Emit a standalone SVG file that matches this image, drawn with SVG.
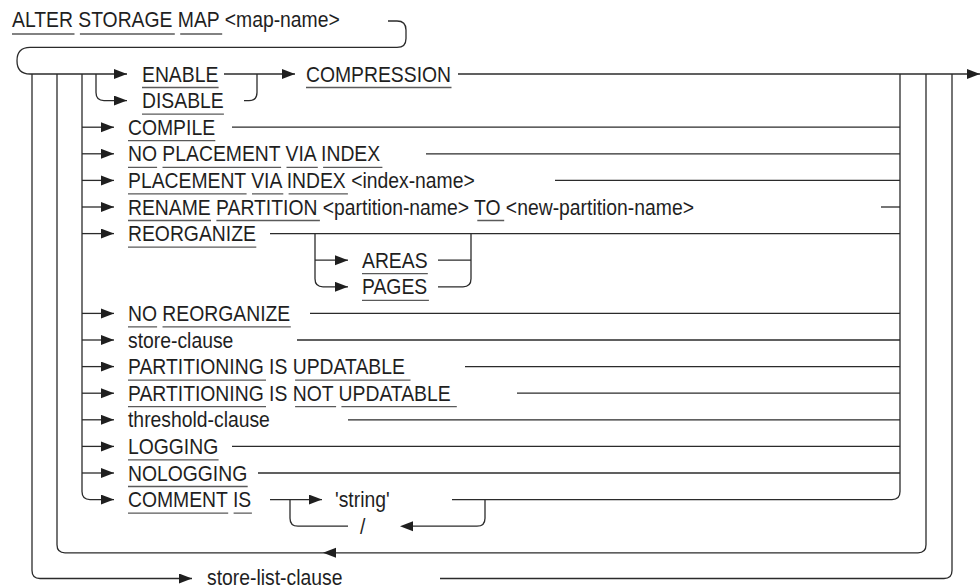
<svg xmlns="http://www.w3.org/2000/svg" width="980" height="588" viewBox="0 0 980 588">
<style>
.ln{fill:none;stroke:#2b2b2b;stroke-width:1.3}
.ul{fill:none;stroke:#5a5a5a;stroke-width:1.3}
.t{font-family:"Liberation Sans",Arial,sans-serif;font-size:21.5px;fill:#1f1f1f}
.ah{fill:#1f1f1f}
</style>
<defs>
<marker id="arr" markerUnits="userSpaceOnUse" markerWidth="14" markerHeight="11" refX="13" refY="5" orient="auto"><path d="M0,0 L13,5 L0,10 z" class="ah"/></marker>
</defs>
<rect width="980" height="588" fill="#ffffff"/>
<g id="connectors">
<path class="ln" d="M388 21 H397 Q406 21 406 30 V38.4 Q406 47.4 397 47.4 H30 Q17 47.4 17 60.7 Q17 74 30 74 H127" marker-end="url(#arr)"/>
<path class="ln" d="M96 74 V92.6 Q96 100.6 104 100.6 H127" marker-end="url(#arr)"/>
<path class="ln" d="M224 74 H295" marker-end="url(#arr)"/>
<path class="ln" d="M244 100.6 H249 Q257 100.6 257 92.6 V74"/>
<path class="ln" d="M458 74 H980" marker-end="url(#arr)"/>
<path class="ln" d="M82 74 V491.6 Q82 499.6 90 499.6 H114" marker-end="url(#arr)"/>
<path class="ln" d="M82 127.2 H114" marker-end="url(#arr)"/>
<path class="ln" d="M82 153.8 H114" marker-end="url(#arr)"/>
<path class="ln" d="M82 180.4 H114" marker-end="url(#arr)"/>
<path class="ln" d="M82 207 H114" marker-end="url(#arr)"/>
<path class="ln" d="M82 233.6 H114" marker-end="url(#arr)"/>
<path class="ln" d="M82 313.4 H114" marker-end="url(#arr)"/>
<path class="ln" d="M82 340 H114" marker-end="url(#arr)"/>
<path class="ln" d="M82 366.6 H114" marker-end="url(#arr)"/>
<path class="ln" d="M82 393.2 H114" marker-end="url(#arr)"/>
<path class="ln" d="M82 419.8 H114" marker-end="url(#arr)"/>
<path class="ln" d="M82 446.4 H114" marker-end="url(#arr)"/>
<path class="ln" d="M82 473 H114" marker-end="url(#arr)"/>
<path class="ln" d="M57 74 V544.8 Q57 552.8 65 552.8 H918 Q926 552.8 926 544.8 V74"/>
<polygon class="ah" points="323,552.8 336,547.8 336,557.8"/>
<path class="ln" d="M32 74 V570.5 Q32 578.5 40 578.5 H192" marker-end="url(#arr)"/>
<path class="ln" d="M440 578.5 H944 Q952 578.5 952 570.5 V74"/>
<path class="ln" d="M900 74 V491.6 Q900 499.6 892 499.6 H452"/>
<path class="ln" d="M232 127.2 H900"/>
<path class="ln" d="M426 153.8 H900"/>
<path class="ln" d="M555 180.4 H900"/>
<path class="ln" d="M881 207 H900"/>
<path class="ln" d="M270 233.6 H900"/>
<path class="ln" d="M315 233.6 V278.8 Q315 286.8 323 286.8 H348" marker-end="url(#arr)"/>
<path class="ln" d="M315 260.2 H348" marker-end="url(#arr)"/>
<path class="ln" d="M438 260.2 H471"/>
<path class="ln" d="M438 286.8 H463 Q471 286.8 471 278.8 V233.6"/>
<path class="ln" d="M310 313.4 H900"/>
<path class="ln" d="M297 340 H900"/>
<path class="ln" d="M465 366.6 H900"/>
<path class="ln" d="M517 393.2 H900"/>
<path class="ln" d="M348 419.8 H900"/>
<path class="ln" d="M232 446.4 H900"/>
<path class="ln" d="M258 473 H900"/>
<path class="ln" d="M270 499.6 H322" marker-end="url(#arr)"/>
<path class="ln" d="M290 499.6 V518.2 Q290 526.2 298 526.2 H348"/>
<path class="ln" d="M405 526.2 H477 Q485 526.2 485 518.2 V499.6"/>
<polygon class="ah" points="400,526.2 413,521.2 413,531.2"/>
</g>
<g id="n-alter">
<text class="t" transform="translate(12 27) scale(0.9 1)">ALTER STORAGE MAP &lt;map-name&gt;</text>
<path class="ul" d="M12 34 H74.5 M79.9 34 H174.8 M180.2 34 H222.2"/>
</g>
<g id="n-enable">
<text class="t" transform="translate(142 81.5) scale(0.9 1)">ENABLE</text>
<path class="ul" d="M142 87.5 H218.6"/>
</g>
<g id="n-disable">
<text class="t" transform="translate(142 108.1) scale(0.9 1)">DISABLE</text>
<path class="ul" d="M142 114.1 H223.9"/>
</g>
<g id="n-compression">
<text class="t" transform="translate(306 81.5) scale(0.9 1)">COMPRESSION</text>
<path class="ul" d="M306 87.5 H451.5"/>
</g>
<g id="n-compile">
<text class="t" transform="translate(128 134.7) scale(0.9 1)">COMPILE</text>
<path class="ul" d="M128 140.7 H215.3"/>
</g>
<g id="n-noplacement">
<text class="t" transform="translate(128 161.3) scale(0.9 1)">NO PLACEMENT VIA INDEX</text>
<path class="ul" d="M128 167.3 H157.1 M162.5 167.3 H281.1 M286.5 167.3 H317.8 M323.1 167.3 H382.4"/>
</g>
<g id="n-placement">
<text class="t" transform="translate(128 187.9) scale(0.9 1)">PLACEMENT VIA INDEX &lt;index-name&gt;</text>
<path class="ul" d="M128 193.9 H246.6 M252 193.9 H283.3 M288.6 193.9 H347.9"/>
</g>
<g id="n-rename">
<text class="t" transform="translate(128 214.5) scale(0.9 1)">RENAME PARTITION &lt;partition-name&gt; TO &lt;new-partition-name&gt;</text>
<path class="ul" d="M128 220.5 H211 M216.4 220.5 H319.9 M477.3 220.5 H504.2"/>
</g>
<g id="n-reorganize">
<text class="t" transform="translate(128 241.1) scale(0.9 1)">REORGANIZE</text>
<path class="ul" d="M128 247.1 H256.3"/>
</g>
<g id="n-areas">
<text class="t" transform="translate(362 267.7) scale(0.9 1)">AREAS</text>
<path class="ul" d="M362 273.7 H427.8"/>
</g>
<g id="n-pages">
<text class="t" transform="translate(362 294.3) scale(0.9 1)">PAGES</text>
<path class="ul" d="M362 300.3 H428.9"/>
</g>
<g id="n-noreorganize">
<text class="t" transform="translate(128 320.9) scale(0.9 1)">NO REORGANIZE</text>
<path class="ul" d="M128 326.9 H157.1 M162.5 326.9 H290.8"/>
</g>
<g id="n-store-clause">
<text class="t" transform="translate(128 347.5) scale(0.9 1)">store-clause</text>
</g>
<g id="n-part-updatable">
<text class="t" transform="translate(128 374.1) scale(0.9 1)">PARTITIONING IS UPDATABLE</text>
<path class="ul" d="M128 380.1 H266 M295.1 380.1 H410.5"/>
</g>
<g id="n-part-not-updatable">
<text class="t" transform="translate(128 400.7) scale(0.9 1)">PARTITIONING IS NOT UPDATABLE</text>
<path class="ul" d="M128 406.7 H266 M295.1 406.7 H336.1 M341.4 406.7 H456.8"/>
</g>
<g id="n-threshold-clause">
<text class="t" transform="translate(128 427.3) scale(0.9 1)">threshold-clause</text>
</g>
<g id="n-logging">
<text class="t" transform="translate(128 453.9) scale(0.9 1)">LOGGING</text>
<path class="ul" d="M128 459.9 H218.6"/>
</g>
<g id="n-nologging">
<text class="t" transform="translate(128 480.5) scale(0.9 1)">NOLOGGING</text>
<path class="ul" d="M128 486.5 H247.7"/>
</g>
<g id="n-comment">
<text class="t" transform="translate(128 507.1) scale(0.9 1)">COMMENT IS</text>
<path class="ul" d="M128 513.1 H228.2 M233.6 513.1 H251.9"/>
</g>
<g id="n-string">
<text class="t" transform="translate(335 507.1) scale(0.9 1)">'string'</text>
</g>
<g id="n-slash">
<text class="t" transform="translate(360 533.7) scale(0.9 1)">/</text>
</g>
<g id="n-store-list-clause">
<text class="t" transform="translate(207 585) scale(0.9 1)">store-list-clause</text>
</g>
</svg>
